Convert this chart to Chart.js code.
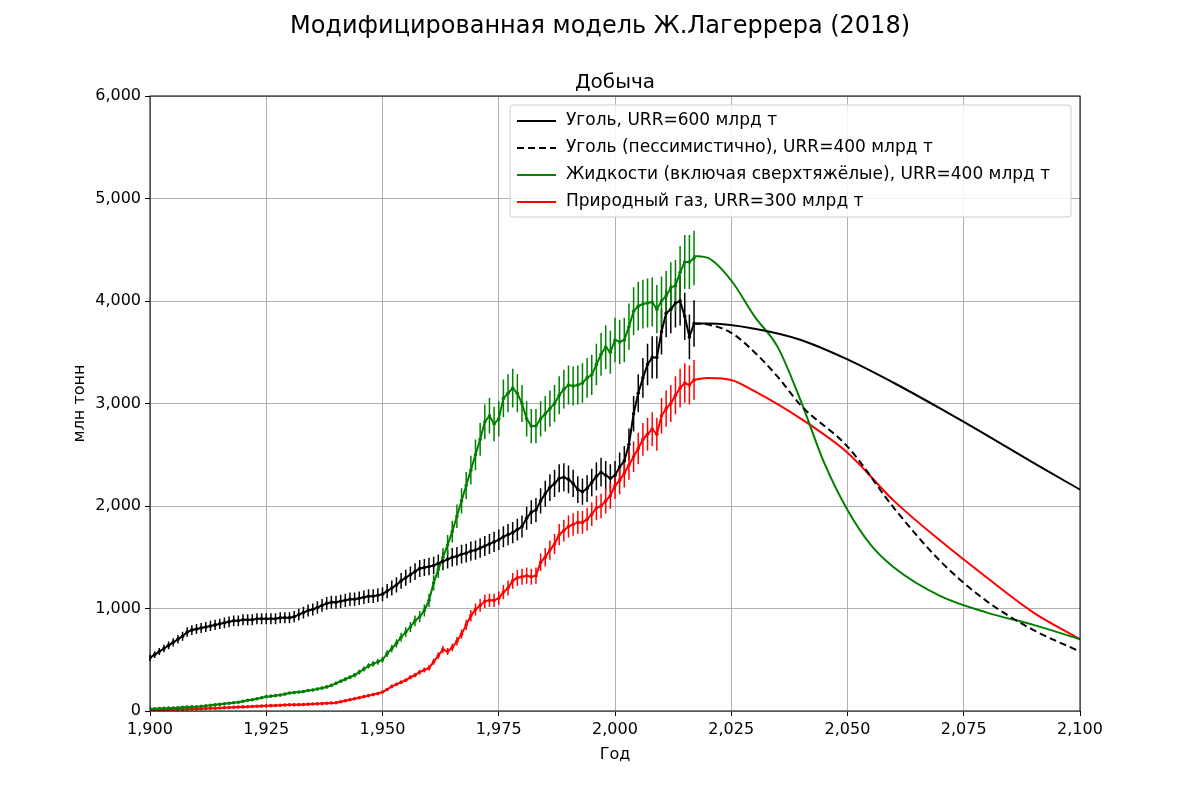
<!DOCTYPE html>
<html>
<head>
<meta charset="utf-8">
<script src="https://cdn.jsdelivr.net/npm/chart.js@4/dist/chart.umd.min.js"></script>
<style>
  body { margin: 0; background: #fff; }
  #wrap { width: 1200px; height: 800px; }
</style>
</head>
<body>
<div id="wrap"><canvas id="chart" width="1200" height="800"></canvas></div>
<script>
// ── historical data, 1900..2017 (million tonnes) ──
const histYears = Array.from({ length: 118 }, (_, i) => 1900 + i);

const coalHist = [
    520, 550, 580, 610, 640, 670, 700, 730, 770, 790,
    800, 810, 820, 830, 840, 850, 860, 870, 880, 880,
    890, 890, 890, 900, 900, 900, 900, 900, 910, 910,
    910, 920, 940, 960, 980, 990, 1010, 1030, 1050, 1060,
    1060, 1070, 1080, 1090, 1090, 1100, 1110, 1120, 1120, 1130,
    1140, 1170, 1200, 1230, 1270, 1300, 1330, 1360, 1390, 1400,
    1410, 1420, 1440, 1460, 1480, 1500, 1510, 1530, 1540, 1560,
    1570, 1590, 1610, 1630, 1650, 1670, 1700, 1720, 1740, 1770,
    1800, 1880, 1940, 1960, 2050, 2120, 2180, 2220, 2270, 2280,
    2260, 2220, 2160, 2140, 2170, 2230, 2290, 2330, 2300, 2270,
    2300, 2380, 2440, 2600, 2900, 3100, 3250, 3380, 3450, 3450,
    3700, 3880, 3920, 3980, 4000, 3850, 3650, 3780
];

const liquidsHist = [
    20, 22, 24, 26, 28, 30, 32, 35, 38, 40,
    42, 45, 50, 55, 60, 65, 70, 75, 80, 85,
    95, 105, 110, 120, 130, 140, 145, 150, 155, 165,
    175, 180, 185, 190, 200, 205, 215, 225, 235, 250,
    270, 290, 310, 330, 350, 380, 410, 440, 460, 480,
    500, 560, 610, 660, 720, 770, 820, 880, 920, 980,
    1080, 1250, 1380, 1500, 1620, 1750, 1900, 2050, 2200, 2350,
    2500, 2650, 2820, 2880, 2800, 2850, 3050, 3100, 3150, 3100,
    3000, 2850, 2780, 2780, 2850, 2900, 2950, 3000, 3080, 3140,
    3180, 3170, 3180, 3200, 3250, 3280, 3380, 3480, 3550, 3500,
    3620, 3600, 3620, 3750, 3900, 3950, 3970, 3980, 3990, 3920,
    4000, 4050, 4130, 4150, 4280, 4380, 4380, 4420
];

const gasHist = [
    10, 11, 12, 13, 14, 15, 16, 17, 18, 19,
    20, 22, 24, 26, 28, 30, 32, 34, 36, 38,
    40, 42, 44, 46, 48, 50, 52, 54, 56, 58,
    60, 60, 62, 64, 66, 68, 70, 72, 75, 78,
    80, 90, 100, 110, 120, 130, 140, 150, 160, 170,
    185, 210, 240, 260, 280, 300, 330, 350, 380, 400,
    420, 480, 540, 600, 580, 620, 680, 750, 840, 930,
    990, 1030, 1070, 1080, 1080, 1100, 1160, 1200, 1270, 1300,
    1310, 1320, 1310, 1320, 1450, 1500, 1570, 1630, 1720, 1760,
    1800, 1820, 1840, 1840, 1870, 1920, 1980, 2000, 2050, 2100,
    2200, 2250, 2320, 2400, 2480, 2560, 2650, 2700, 2750, 2700,
    2880, 2950, 3000, 3080, 3150, 3200, 3180, 3230
];

const errFrac = 0.06;

// ── model curves ──
const coalModelYears = [2017, 2020, 2030, 2040, 2050, 2060, 2070, 2080, 2090, 2100];
const coalModel      = [3780, 3780, 3730, 3620, 3430, 3200, 2950, 2690, 2420, 2160];

const coalPessYears = [2017, 2020, 2025, 2030, 2035, 2040, 2050, 2060, 2070, 2080, 2090, 2100];
const coalPess      = [3780, 3770, 3690, 3500, 3260, 2980, 2580, 1980, 1460, 1070, 790, 580];

const liquidsModelYears = [2017, 2020, 2025, 2030, 2035, 2040, 2045, 2050, 2055, 2060, 2070, 2080, 2090, 2100];
const liquidsModel      = [4440, 4420, 4200, 3850, 3550, 3020, 2420, 1960, 1620, 1400, 1120, 960, 840, 700];

const gasModelYears = [2017, 2020, 2025, 2030, 2040, 2050, 2060, 2070, 2080, 2090, 2100];
const gasModel      = [3230, 3250, 3230, 3120, 2850, 2520, 2050, 1660, 1300, 960, 700];

const xTicks = [1900, 1925, 1950, 1975, 2000, 2025, 2050, 2075, 2100];

const legendItems = [
    { label: 'Уголь, URR=600 млрд т', color: '#000', dash: [] },
    { label: 'Уголь (пессимистично), URR=400 млрд т', color: '#000', dash: [7, 4] },
    { label: 'Жидкости (включая сверхтяжёлые), URR=400 млрд т', color: 'green', dash: [] },
    { label: 'Природный газ, URR=300 млрд т', color: 'red', dash: [] },
];

const pts = (xs, ys) => xs.map((x, i) => ({ x, y: ys[i] }));

function histSet(values, color) {
    return {
        data: pts(histYears, values),
        borderColor: color,
        backgroundColor: color,
        borderWidth: 2,
        pointRadius: 1.8,
        pointBorderWidth: 0,
        errorBars: true,
    };
}
function modelSet(xs, ys, color, dash) {
    return {
        data: pts(xs, ys),
        borderColor: color,
        borderWidth: 2,
        borderDash: dash || [],
        pointRadius: 0,
        tension: 0.4,
        cubicInterpolationMode: 'monotone',
    };
}

const errorBarPlugin = {
    id: 'errorBars',
    beforeDatasetsDraw(chart) {
        const { ctx, scales: { x, y } } = chart;
        ctx.save();
        ctx.lineWidth = 1.5;
        chart.data.datasets.forEach(ds => {
            if (!ds.errorBars) return;
            ctx.strokeStyle = ds.borderColor;
            ctx.beginPath();
            ds.data.forEach(p => {
                const px = x.getPixelForValue(p.x);
                ctx.moveTo(px, y.getPixelForValue(p.y * (1 - errFrac)));
                ctx.lineTo(px, y.getPixelForValue(p.y * (1 + errFrac)));
            });
            ctx.stroke();
        });
        ctx.restore();
    }
};

const decorPlugin = {
    id: 'decor',
    afterDraw(chart) {
        const { ctx, chartArea: a } = chart;
        ctx.save();
        ctx.fillStyle = '#000';
        ctx.textAlign = 'center';
        ctx.textBaseline = 'middle';
        ctx.font = '24px "DejaVu Sans"';
        ctx.fillText('Модифицированная модель Ж.Лагеррера (2018)', 600, 27);
        ctx.font = '20px "DejaVu Sans"';
        ctx.fillText('Добыча', (a.left + a.right) / 2, 83);

        ctx.strokeStyle = '#000';
        ctx.lineWidth = 1;
        ctx.strokeRect(a.left, a.top, a.right - a.left, a.bottom - a.top);

        // legend box
        const lx = 510, ly = 105, lw = 561, lh = 112;
        ctx.fillStyle = 'rgba(255,255,255,0.85)';
        ctx.strokeStyle = '#ccc';
        ctx.beginPath();
        ctx.roundRect(lx, ly, lw, lh, 3);
        ctx.fill();
        ctx.stroke();
        ctx.font = '17px "DejaVu Sans"';
        ctx.textAlign = 'left';
        legendItems.forEach((it, i) => {
            const yy = ly + 16 + i * 27;
            ctx.strokeStyle = it.color;
            ctx.lineWidth = 2;
            ctx.setLineDash(it.dash);
            ctx.beginPath();
            ctx.moveTo(lx + 7, yy);
            ctx.lineTo(lx + 46, yy);
            ctx.stroke();
            ctx.setLineDash([]);
            ctx.fillStyle = '#000';
            ctx.fillText(it.label, lx + 56, yy);
        });
        ctx.restore();
    }
};

new Chart(document.getElementById('chart'), {
    type: 'line',
    data: {
        datasets: [
            histSet(coalHist, '#000'),
            histSet(liquidsHist, 'green'),
            histSet(gasHist, 'red'),
            modelSet(coalModelYears, coalModel, '#000'),
            modelSet(coalPessYears, coalPess, '#000', [7, 4]),
            modelSet(liquidsModelYears, liquidsModel, 'green'),
            modelSet(gasModelYears, gasModel, 'red'),
        ],
    },
    options: {
        responsive: false,
        animation: false,
        layout: { padding: { left: 70, top: 96, right: 120, bottom: 36 } },
        plugins: { legend: { display: false }, tooltip: { enabled: false } },
        scales: {
            x: {
                type: 'linear',
                min: 1900, max: 2100,
                afterBuildTicks: s => { s.ticks = xTicks.map(v => ({ value: v })); },
                afterFit: s => { s.height = 53; },
                ticks: { color: '#000', font: { size: 16, family: 'DejaVu Sans' }, maxRotation: 0, padding: 4 },
                grid: { color: '#b0b0b0', tickLength: 5, tickColor: '#000' },
                border: { display: false },
                title: { display: true, text: 'Год', color: '#000', font: { size: 16, family: 'DejaVu Sans' }, padding: 0 },
            },
            y: {
                min: 0, max: 6000,
                afterFit: s => { s.width = 80; },
                ticks: { stepSize: 1000, color: '#000', font: { size: 16, family: 'DejaVu Sans' }, padding: 4 },
                grid: { color: '#b0b0b0', tickLength: 5, tickColor: '#000' },
                border: { display: false },
                title: { display: true, text: 'млн тонн', color: '#000', font: { size: 16, family: 'DejaVu Sans' }, padding: 0 },
            },
        },
    },
    plugins: [errorBarPlugin, decorPlugin],
});
</script>
</body>
</html>
